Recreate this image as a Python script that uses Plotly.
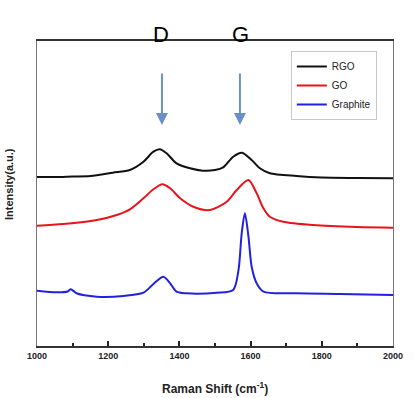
import plotly.graph_objects as go

# Raman spectra (intensity in arbitrary units)
rgo_x = [1000, 1050, 1100, 1150, 1213, 1261, 1299, 1327, 1345, 1364, 1392, 1430, 1466, 1500, 1523, 1551, 1576, 1603, 1626, 1654, 1729, 1800, 1900, 2000]
rgo_y = [169, 169, 169.5, 170, 173.3, 176, 184.3, 194.3, 196.7, 192.7, 182.7, 177.7, 175.3, 176, 178.7, 189.3, 193.3, 186, 177.7, 172.7, 170, 168.5, 168, 167.7]

go_x = [1000, 1074, 1168, 1224, 1261, 1299, 1327, 1352, 1374, 1402, 1439, 1486, 1533, 1561, 1594, 1617, 1636, 1654, 1692, 1776, 1900, 2000]
go_y = [120.3, 122, 126, 131, 136.7, 147.7, 156.7, 161.7, 157.7, 147.7, 139.3, 136, 144.3, 156, 166, 152.7, 137.7, 129.3, 124.3, 121, 119, 118.3]

gr_x = [1000, 1055, 1086, 1095, 1111, 1168, 1243, 1299, 1327, 1355, 1374, 1392, 1420, 1505, 1551, 1566, 1575, 1584, 1594, 1603, 1617, 1636, 1729, 1850, 2000]
gr_y = [55.3, 53.7, 54.5, 56.7, 52.7, 49.3, 50, 53.3, 62, 69.3, 62.7, 54.3, 52.7, 53.3, 56, 76, 112.7, 132.7, 109.3, 79.3, 62.7, 54.3, 52.7, 52, 51]

series = [("RGO", rgo_x, rgo_y, "#111111"), ("GO", go_x, go_y, "#e8141b"), ("Graphite", gr_x, gr_y, "#2222dd")]
peaks = [("D", 1348, 1351), ("G", 1573, 1570)]
xticks = [1000, 1200, 1400, 1600, 1800, 2000]

fig = go.Figure()
for name, xs, ys, col in series:
    fig.add_trace(go.Scatter(x=xs, y=ys, name=name, mode="lines",
                             line=dict(color=col, width=2, shape="spline", smoothing=0.8)))

ann = []
for lab, xt, xa in peaks:
    ann.append(dict(x=xt, y=1.069, xref="x", yref="paper", text=lab, showarrow=False,
                    font=dict(size=22, color="black", family="Liberation Sans")))
    ann.append(dict(x=xa, y=221, xref="x", yref="y", text="", showarrow=True,
                    ax=0, ay=-53, arrowhead=2, arrowsize=1.2, arrowwidth=2, arrowcolor="#6b8fc8"))
ann.append(dict(x=(9 - 37) / 356.0, xref="paper", xanchor="center", y=346 - 184, yref="y",
                text="Intensity(a.u.)", showarrow=False, textangle=-90,
                font=dict(size=11, color="#222", family="Liberation Sans", weight="bold")))
ann.append(dict(x=0.5, xref="paper", xanchor="center", y=(346 - 388) / 305.0, yref="paper",
                yanchor="middle", text="Raman Shift (cm<sup>-1</sup>)", showarrow=False,
                font=dict(size=12, color="#222", family="Liberation Sans", weight="bold")))

fig.update_layout(
    width=414, height=398,
    margin=dict(l=37, r=21, t=41, b=52, autoexpand=False),
    plot_bgcolor="white", paper_bgcolor="white",
    showlegend=True,
    legend=dict(x=0.713, y=0.967, xanchor="left", yanchor="top",
                bordercolor="#c8c8c8", borderwidth=1, bgcolor="white",
                font=dict(size=10, color="#222", family="Liberation Sans"),
                itemwidth=30, tracegroupgap=0),
    annotations=ann,
)
fig.update_xaxes(range=[1000, 2000], tickvals=xticks, ticks="inside", ticklen=5, tickwidth=1.5,
                 tickcolor="#222", minor=dict(dtick=100, ticks="inside", ticklen=3, tickcolor="#222"),
                 showline=True, linecolor="#333", linewidth=1.5, mirror=True, showgrid=False, zeroline=False,
                 automargin=False,
                 tickfont=dict(size=9, color="#222", family="Liberation Sans", weight="bold"))
fig.update_yaxes(range=[0, 305], showticklabels=False, ticks="", showline=True, linecolor="#777",
                 linewidth=1, mirror=True, showgrid=False, zeroline=False, automargin=False)

fig.write_html("out.html")
